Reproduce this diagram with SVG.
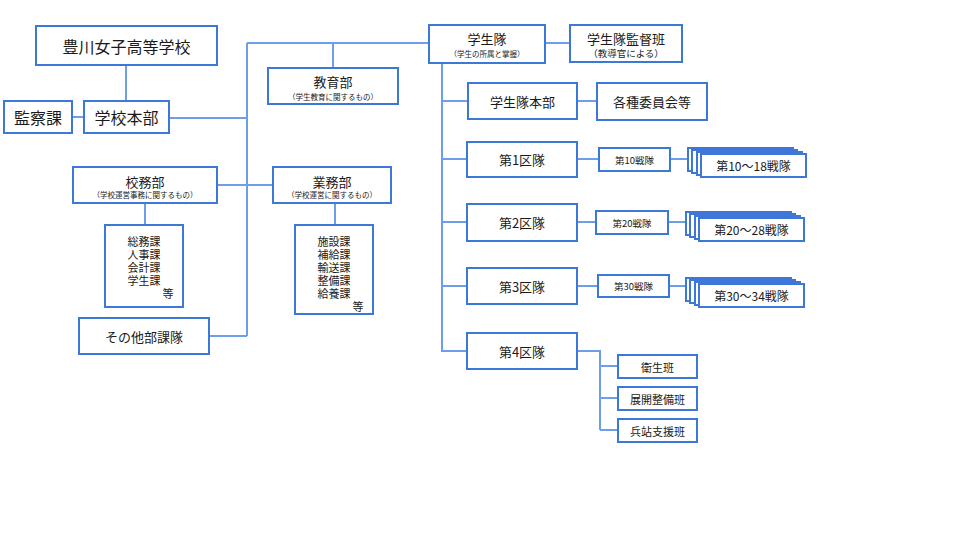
<svg xmlns="http://www.w3.org/2000/svg" width="960" height="540" viewBox="0 0 960 540">
<style>
.b{fill:#fff;stroke:#3d78d8;stroke-width:2}
.c{fill:none;stroke:#6d9eeb;stroke-width:2}
text{font-family:"Noto Sans CJK JP","Noto Sans CJK SC",sans-serif;fill:#1a1a1a;text-anchor:middle;dominant-baseline:central}
.t16{font-size:16px}.t13{font-size:13px}.t12{font-size:12px}.t11{font-size:11px}.t9{font-size:9.5px}.s{font-size:7.5px}
</style>
<rect width="960" height="540" fill="#fff"/>
<g id="connectors">
<path class="c" d="M126,65V101M72,117H84M169,118H247M247,43V336M247,43H429M333,43V68M545,43H570"/>
<path class="c" d="M442,63V351H467M442,101H468M577,101H597M442,159H467M442,222H467M442,286H467"/>
<path class="c" d="M577,159H599M670,159H688M577,222H596M668,222H686M577,286H598M669,286H686"/>
<path class="c" d="M577,351H600V430M600,366H618M600,398H618M600,430H618"/>
<path class="c" d="M217,185H273M145,203V225M335,203V225M209,336H247"/>
</g>
<g id="toyokawa"><rect class="b" x="36" y="26" width="181" height="39"/><text class="t16" x="126.5" y="45.5">豊川女子高等学校</text></g>
<g id="kansatsu"><rect class="b" x="4" y="101" width="68" height="32"/><text class="t16" x="38" y="117">監察課</text></g>
<g id="honbu"><rect class="b" x="84" y="101" width="85" height="32"/><text class="t16" x="126.5" y="117">学校本部</text></g>
<g id="kyoiku"><rect class="b" x="268" y="68" width="130" height="36"/><text class="t13" x="333" y="81">教育部</text><text class="s" x="333" y="96">（学生教育に関するもの）</text></g>
<g id="gakuseitai"><rect class="b" x="429" y="25" width="116" height="38"/><text class="t13" x="487" y="38">学生隊</text><text class="s" x="487" y="53">（学生の所属と掌握）</text></g>
<g id="kantoku"><rect class="b" x="570" y="25" width="112" height="37"/><text class="t13" x="626" y="38">学生隊監督班</text><text class="t9" x="626" y="52.5">（教導官による）</text></g>
<g id="taihonbu"><rect class="b" x="468" y="83" width="109" height="36"/><text class="t13" x="522.5" y="101">学生隊本部</text></g>
<g id="iinkai"><rect class="b" x="597" y="83" width="110" height="37"/><text class="t13" x="652" y="101.5">各種委員会等</text></g>
<g id="ku1"><rect class="b" x="467" y="142" width="110" height="35"/><text class="t13" x="522" y="159.5">第1区隊</text></g>
<g id="sentai10"><rect class="b" x="599" y="148" width="71" height="23"/><text class="t9" x="634.5" y="159.5">第10戦隊</text></g>
<g id="stack1"><rect class="b" x="688" y="148" width="105" height="23"/><rect class="b" x="692" y="150" width="105" height="23"/><rect class="b" x="697" y="152" width="105" height="23"/><rect class="b" x="701" y="154" width="105" height="23"/><text class="t12" x="753.5" y="165.5">第10～18戦隊</text></g>
<g id="ku2"><rect class="b" x="467" y="204" width="110" height="37"/><text class="t13" x="522" y="222.5">第2区隊</text></g>
<g id="sentai20"><rect class="b" x="596" y="211" width="72" height="23"/><text class="t9" x="632" y="222.5">第20戦隊</text></g>
<g id="stack2"><rect class="b" x="686" y="212" width="105" height="23"/><rect class="b" x="690" y="214" width="105" height="23"/><rect class="b" x="695" y="216" width="105" height="23"/><rect class="b" x="699" y="218" width="105" height="23"/><text class="t12" x="751.5" y="229.5">第20～28戦隊</text></g>
<g id="ku3"><rect class="b" x="467" y="268" width="110" height="36"/><text class="t13" x="522" y="286">第3区隊</text></g>
<g id="sentai30"><rect class="b" x="598" y="275" width="71" height="22"/><text class="t9" x="633.5" y="286">第30戦隊</text></g>
<g id="stack3"><rect class="b" x="686" y="278" width="105" height="23"/><rect class="b" x="690" y="280" width="105" height="23"/><rect class="b" x="695" y="282" width="105" height="23"/><rect class="b" x="699" y="284" width="105" height="23"/><text class="t12" x="751.5" y="295.5">第30～34戦隊</text></g>
<g id="ku4"><rect class="b" x="467" y="333" width="110" height="36"/><text class="t13" x="522" y="351">第4区隊</text></g>
<g id="eisei"><rect class="b" x="618" y="355" width="79" height="23"/><text class="t11" x="657.5" y="366.5">衛生班</text></g>
<g id="tenkai"><rect class="b" x="618" y="387" width="79" height="23"/><text class="t11" x="657.5" y="398.5">展開整備班</text></g>
<g id="heitan"><rect class="b" x="618" y="419" width="79" height="23"/><text class="t11" x="657.5" y="430.5">兵站支援班</text></g>
<g id="koumu"><rect class="b" x="73" y="167" width="144" height="36"/><text class="t13" x="145" y="181">校務部</text><text class="s" x="145" y="194">（学校運営事務に関するもの）</text></g>
<g id="gyoumu"><rect class="b" x="273" y="167" width="118" height="36"/><text class="t13" x="332" y="181">業務部</text><text class="s" x="332" y="194">（学校運営に関するもの）</text></g>
<g id="koumu-list"><rect class="b" x="105" y="225" width="78" height="82"/><text class="t11" x="144" y="241">総務課</text><text class="t11" x="144" y="254">人事課</text><text class="t11" x="144" y="267">会計課</text><text class="t11" x="144" y="280">学生課</text><text class="t11" x="168" y="293">等</text></g>
<g id="gyoumu-list"><rect class="b" x="295" y="225" width="78" height="89"/><text class="t11" x="334" y="241">施設課</text><text class="t11" x="334" y="254">補給課</text><text class="t11" x="334" y="267">輸送課</text><text class="t11" x="334" y="280">整備課</text><text class="t11" x="334" y="293">給養課</text><text class="t11" x="358" y="306">等</text></g>
<g id="sonota"><rect class="b" x="79" y="318" width="130" height="36"/><text class="t13" x="144" y="336">その他部課隊</text></g>
</svg>
